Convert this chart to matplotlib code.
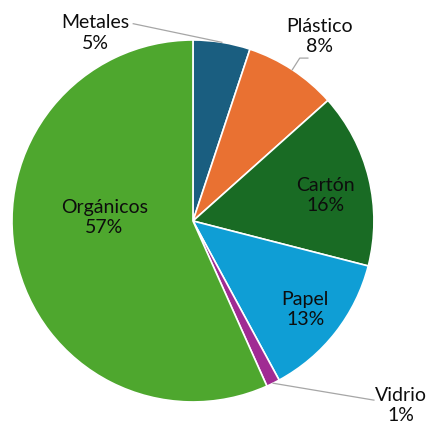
import numpy as np
import matplotlib.pyplot as plt

plt.rcParams['font.family'] = ['Lato', 'DejaVu Sans']

# data (percent of total)
categorias = ["Metales", "Plástico", "Cartón", "Papel", "Vidrio", "Orgánicos"]
porcentajes = [5.1, 8.3, 15.6, 13.1, 1.2, 56.7]
colores = ["#1a5e80", "#e97132", "#196b24", "#0f9ed5", "#a02b93", "#4ea72e"]

# label placement (data units, pie radius = 1)
dentro = {"Cartón": (0.73, 0.14), "Papel": (0.62, -0.49), "Orgánicos": (-0.49, 0.02)}
fuera = {"Metales": (-0.54, 1.04), "Plástico": (0.70, 1.02), "Vidrio": (1.15, -1.02)}

fig = plt.figure(figsize=(4.27, 4.28), dpi=100)
ax = fig.add_axes([0, 0, 1, 1])

wedges, _ = ax.pie(porcentajes, colors=colores, startangle=90, counterclock=False,
                   wedgeprops=dict(edgecolor="white", linewidth=1.2))

ax.set_xlim(-1.066, 1.293)
ax.set_ylim(-1.144, 1.221)
ax.set_aspect("equal")
ax.axis("off")

for w, nombre, p in zip(wedges, categorias, porcentajes):
    texto = f"{nombre}\n{round(p):.0f}%"
    x, y = dentro[nombre] if nombre in dentro else fuera[nombre]
    ax.text(x, y, texto, ha="center", va="center", fontsize=14,
            color="#0d0d0d", linespacing=1.25)

# leader lines from the outside labels to the slice edge
def borde(w, frac=0.5):
    ang = np.deg2rad(w.theta1 + (w.theta2 - w.theta1) * frac)
    return np.cos(ang), np.sin(ang)

gris = "#a6a6a6"
m = wedges[categorias.index("Metales")]
px, py = borde(m, 0.5)
ax.plot([-0.33, px], [1.09, py], color=gris, lw=0.9)

pl = wedges[categorias.index("Plástico")]
px, py = borde(pl, 0.5)
ax.plot([0.635, 0.59, px], [0.90, 0.90, py], color=gris, lw=0.9)

v = wedges[categorias.index("Vidrio")]
px, py = borde(v, 0.5)
ax.plot([px, 1.0], [py, -0.99], color=gris, lw=0.9)

fig.savefig("out.png", dpi=100)
